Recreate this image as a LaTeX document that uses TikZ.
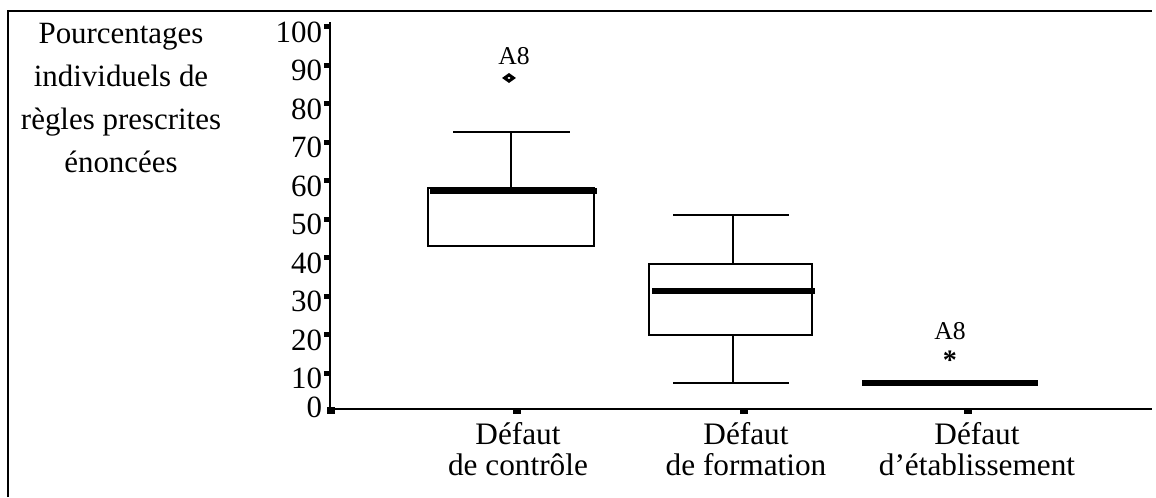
\documentclass[tikz,border=0pt]{standalone}
\usepackage{fontspec}
\setmainfont{Liberation Serif}
\usetikzlibrary{shapes.geometric}

\begin{document}
\begin{tikzpicture} [x=0.02cm, y=-0.02cm,
            line width=1.1pt,
            boxline/.style = {draw, line width=1.1pt},
            median/.style = {line width=3.7pt},
            tickmark/.style = {fill=black},
            ticklabel/.style = {font=\fontsize{17.6}{21}\selectfont,
                anchor=base east, inner sep=0pt},
            catlabel/.style = {font=\fontsize{17.8}{17.4}\selectfont,
                align=center, anchor=north, inner sep=0pt},
            outlabel/.style = {font=\fontsize{14.6}{16}\selectfont,
                inner sep=0pt}]

        \useasboundingbox (0,0) rectangle (1156,497);

        % Frame
        \draw (8,497) -- (8,11) -- (1152,11);

        % Title of the y axis
        \node (ytitle) [font=\fontsize{17.6}{24.4}\selectfont,
            align=center, anchor=north, inner sep=0pt]
            at (121,22.5) {Pourcentages\\individuels de\\règles prescrites\\énoncées};

        % Categories
        \node (catA) [catlabel] at (518,421.5) {Défaut\\de contrôle};
        \node (catB) [catlabel] at (746,421.5) {Défaut\\de formation};
        \node (catC) [catlabel] at (977,421.5) {Défaut\\d’établissement};

        % Data part: x in pixels from the axis, y in percent
        \begin{scope} [shift={(330,409)}, y=0.077cm]

            % Axes
            \coordinate (o) at (0,0);
            \coordinate (ytop) at (0,100.5);
            \coordinate (xend) at (822,0);
            \draw (ytop) -- (o) -- (xend);
            \fill (-3,0.6) rectangle (5,-1.4);

            % Ticks of the y axis
            \foreach \v in {10,20,...,100} {
                \fill[tickmark] (-6,\v) rectangle (0,\v-1.3);
                \node (yl\v) [ticklabel, yshift=-0.36cm] at (-7,\v) {\v};
            }
            \node (yl0) [ticklabel, yshift=-0.17cm] at (-7,0) {0};

            % Ticks of the x axis
            \foreach \t in {187,414,638}
                \fill[tickmark] (\t-4,0) rectangle (\t+4,-1.3);

            % Box 1
            \draw[boxline] (98,42.3) rectangle (264,57.4);
            \draw (181,57.4) -- (181,72);
            \draw (123,72) -- (240,72);
            \draw[median] (100,56.6) -- (267,56.6);
            \node (outA) [diamond, draw, line width=1.7pt, inner sep=0pt,
                minimum width=0.2cm, minimum height=0.15cm] at (179,86) {};
            \node (labA) [outlabel] at (184,91.6) {A8};

            % Box 2
            \draw[boxline] (319,19.2) rectangle (482,37.7);
            \draw (403,37.7) -- (403,50.4);
            \draw (343,50.4) -- (459,50.4);
            \draw (403,19.2) -- (403,6.75);
            \draw (343,6.75) -- (459,6.75);
            \draw[median] (322,30.6) -- (485,30.6);

            % Box 3
            \draw[median] (532,6.75) -- (708,6.75);
            \node (outC) [font=\fontsize{16}{16}\selectfont\bfseries,
                inner sep=0pt] at (620,12.6) {*};
            \node (labC) [outlabel] at (620,20.2) {A8};
        \end{scope}
\end{tikzpicture}
\end{document}
